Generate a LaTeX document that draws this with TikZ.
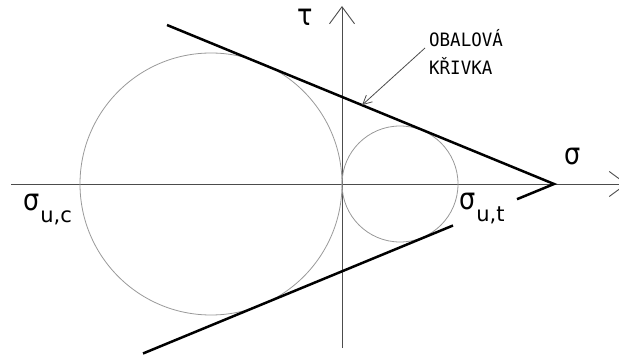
\documentclass[tikz,border=0pt]{standalone}
\usepackage{fontspec}
\newfontfamily\tfont[FakeStretch=0.85]{DejaVu Sans}
\newfontfamily\subfont{DejaVu Sans}
\newfontfamily\capfont[FakeStretch=0.95]{DejaVu Sans Mono}
\usetikzlibrary{arrows.meta,calc}
\begin{document}
\begin{tikzpicture}[x=1pt,y=-1pt,
  axis/.style={draw=black!70, line width=0.9pt, -{Straight Barb[length=17pt,width=25pt]}},
  circ/.style={draw=black!40, line width=0.8pt, circle, inner sep=0pt},
  env/.style={draw=black, line width=2.5pt},
  leader/.style={draw=black!70, line width=0.8pt, -{Straight Barb[length=9pt,width=9pt]}},
  big/.style={font=\tfont\fontsize{30}{30}\selectfont, inner sep=0pt},
  captext/.style={font=\capfont\fontsize{18.4}{18.4}\selectfont, inner sep=0pt, anchor=base west}
]
\useasboundingbox (0,0) rectangle (619,358);
% axes
\coordinate (xL) at (11,184);
\coordinate (xR) at (627,184);
\coordinate (yB) at (342,348);
\coordinate (yT) at (342,6);
\draw[axis] (xL) -- (xR);
\draw[axis] (yB) -- (yT);
% Mohr circles
\node[circ, minimum size=262pt] (C1) at (211,184) {};
\node[circ, minimum size=116pt] (C2) at (400,184) {};
% envelope
\coordinate (A) at (554,184);
\coordinate (U1) at (167,25);
\coordinate (L1) at (517,199.2);
\coordinate (L2) at (453,225.5);
\coordinate (L3) at (143,353.5);
\draw[env] (U1) -- (A) -- (L1);
\draw[env] (L2) -- (L3);
% labels
\node[big] (tau) at (305,17) {τ};
\node[big] (sig) at (573,157) {σ};
\node[big, anchor=base west] (suc) at (23,211) {σ\kern1pt\raisebox{-12pt}{\subfont\fontsize{21}{21}\selectfont u,c}};
\node[big, anchor=base west] (sut) at (459,210) {σ\kern1pt\raisebox{-12pt}{\subfont\fontsize{21}{21}\selectfont u,t}};
\node[captext] (ob) at (429,46.5) {OBALOVÁ};
\node[captext] (kr) at (429,75) {KŘIVKA};
\coordinate (lead) at (425,48);
\coordinate (tipp) at ($(U1)!0.504!(A)$);
\draw[leader] (lead) -- (tipp);
\end{tikzpicture}
\end{document}
